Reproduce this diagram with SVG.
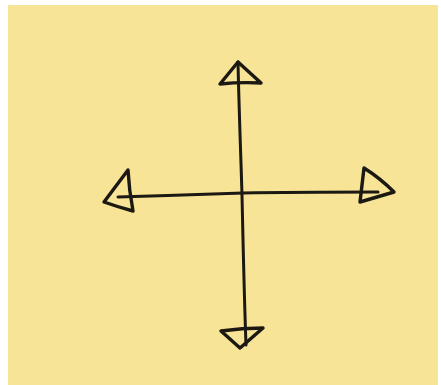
<svg xmlns="http://www.w3.org/2000/svg" width="441" height="385" viewBox="0 0 441 385">
<style>
.ink{fill:none;stroke:#1c1812;stroke-width:3;stroke-linecap:round;stroke-linejoin:round}
.head{fill:none;stroke:#1c1812;stroke-width:3.4;stroke-linejoin:round;stroke-linecap:round}
</style>
<rect x="0" y="0" width="441" height="385" fill="#ffffff"/>
<rect x="8" y="5" width="430" height="380" fill="#f7e496"/>
<g id="connectors">
<path class="ink" d="M238 62 C239 110 241 160 242 195 C243 240 244 290 246 345"/>
<path class="ink" d="M118 197 C160 196 200 194 243 193 C290 192 330 192 378 192"/>
</g>
<g id="arrow-up">
<path class="head" d="M238 62 L220 84 Q240 82 261 83 Z"/>
</g>
<g id="arrow-left">
<path class="head" d="M128 170 L104 202 Q118 207 133 211 Q129 190 128 170 Z"/>
</g>
<g id="arrow-right">
<path class="head" d="M364 168 Q380 178 394 192 Q377 197 360 202 Q362 185 364 168 Z"/>
</g>
<g id="arrow-down">
<path class="head" d="M221 331 Q242 328 263 328 L240 348 Z"/>
</g>
</svg>
